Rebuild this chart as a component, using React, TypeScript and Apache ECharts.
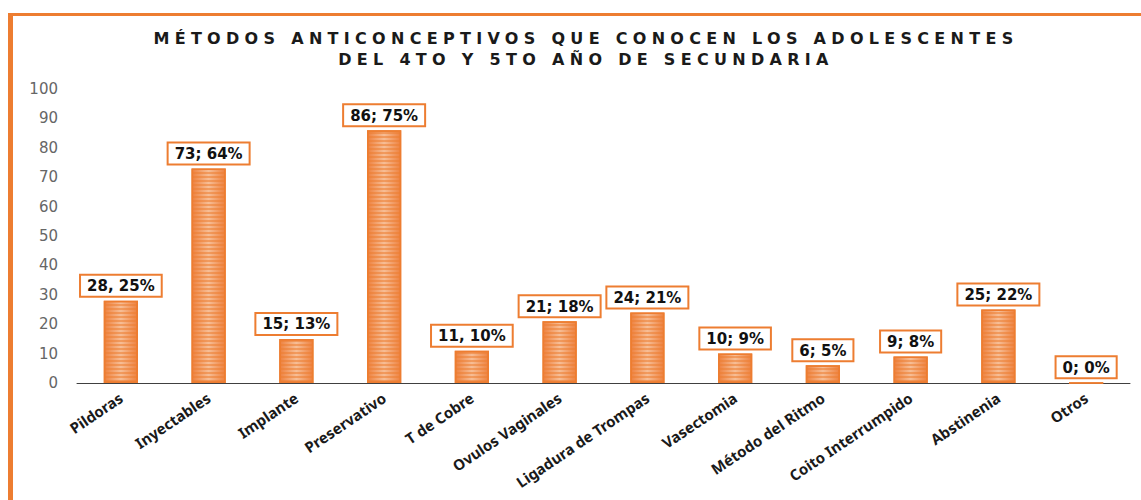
import React, { useEffect, useRef } from "react";
import * as echarts from "echarts";

const titleLines = [
  "MÉTODOS ANTICONCEPTIVOS QUE CONOCEN LOS ADOLESCENTES",
  "DEL 4TO Y 5TO AÑO DE SECUNDARIA",
];
const categories = [
  "Pildoras",
  "Inyectables",
  "Implante",
  "Preservativo",
  "T de Cobre",
  "Ovulos Vaginales",
  "Ligadura de Trompas",
  "Vasectomia",
  "Método del Ritmo",
  "Coito Interrumpido",
  "Abstinenia",
  "Otros",
];
const counts = [28, 73, 15, 86, 11, 21, 24, 10, 6, 9, 25, 0];
const percents = [25, 64, 13, 75, 10, 18, 21, 9, 5, 8, 22, 0];
const separators = [", ", "; ", "; ", "; ", ", ", "; ", "; ", "; ", "; ", "; ", "; ", "; "];
const yTicks = { min: 0, max: 100, interval: 10 };

const ORANGE = "#ED7D31";

export default function App() {
  const ref = useRef<HTMLDivElement>(null);
  useEffect(() => {
    document.body.style.margin = "0";
    document.body.style.overflow = "hidden";
    const chart = echarts.init(ref.current!, null, { renderer: "svg" });
    const spaceTitle = () => {
      const el = ref.current;
      if (!el) return;
      el.querySelectorAll("text").forEach((t) => {
        if (titleLines.includes((t.textContent || "").trim())) {
          t.setAttribute("letter-spacing", "5.3");
        }
      });
    };
    chart.on("rendered", spaceTitle);
    chart.setOption({
      animation: false,
      backgroundColor: "#ffffff",
      title: {
        text: titleLines.join("\n"),
        left: 581,
        top: 23,
        textAlign: "center",
        textStyle: {
          fontFamily: "DejaVu Sans",
          fontWeight: "bold",
          fontSize: 16,
          lineHeight: 21,
          color: "#1a1a1a",
        },
      },
      graphic: [
        { type: "rect", left: 8, top: 13, shape: { width: 5, height: 500 }, style: { fill: ORANGE }, silent: true },
        { type: "rect", left: 8, top: 13, shape: { width: 1200, height: 3 }, style: { fill: ORANGE }, silent: true },
      ],
      grid: { left: 77, right: 11, top: 89, bottom: 117, containLabel: false },
      xAxis: {
        type: "category",
        data: categories,
        axisLine: { lineStyle: { color: "#404040", width: 1 } },
        axisTick: { show: false },
        axisLabel: {
          interval: 0,
          rotate: 34,
          margin: 13,
          fontFamily: "Noto Sans",
          fontWeight: "bold",
          fontSize: 15,
          color: "#1a1a1a",
        },
      },
      yAxis: {
        type: "value",
        min: yTicks.min,
        max: yTicks.max,
        interval: yTicks.interval,
        axisLine: { show: false },
        axisTick: { show: false },
        splitLine: { show: false },
        axisLabel: {
          margin: 19,
          fontFamily: "DejaVu Sans",
          fontSize: 15,
          color: "#666666",
        },
      },
      series: [
        {
          type: "bar",
          data: counts,
          barWidth: "39%",
          itemStyle: {
            color: new echarts.graphic.LinearGradient(0, 0, 1, 0, [
              { offset: 0, color: "#EE8240" },
              { offset: 0.5, color: "#F7BE96" },
              { offset: 1, color: "#EE8240" },
            ]),
            borderColor: ORANGE,
            borderWidth: 1.5,
            decal: {
              symbol: "rect",
              symbolSize: 1,
              dashArrayX: [[1, 0]],
              dashArrayY: [2, 2],
              rotation: 0,
              color: "rgba(237,125,49,0.55)",
            },
          },
          label: {
            show: true,
            position: "top",
            distance: 5,
            formatter: (p: any) =>
              `${counts[p.dataIndex]}${separators[p.dataIndex]}${percents[p.dataIndex]}%`,
            fontFamily: "DejaVu Sans",
            fontWeight: "bold",
            fontSize: 15,
            color: "#111111",
            backgroundColor: "#ffffff",
            borderColor: ORANGE,
            borderWidth: 2,
            padding: [3, 6, 2, 6],
          },
        },
      ],
    });
    spaceTitle();
    return () => chart.dispose();
  }, []);
  return <div ref={ref} style={{ width: 1141, height: 500 }} />;
}
